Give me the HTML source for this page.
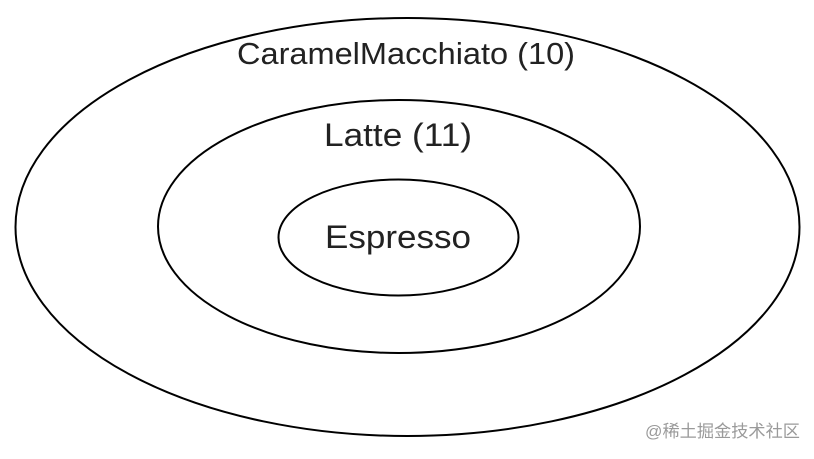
<!DOCTYPE html>
<html>
<head>
<meta charset="utf-8">
<style>
html,body{margin:0;padding:0;background:#fff;}
body{width:814px;height:454px;overflow:hidden;}
</style>
</head>
<body>
<svg width="814" height="454" viewBox="0 0 814 454" xmlns="http://www.w3.org/2000/svg">
<rect width="814" height="454" fill="#fff"/>
<ellipse cx="407.5" cy="227" rx="392" ry="209" fill="none" stroke="#000" stroke-width="2"/>
<ellipse cx="399" cy="226.5" rx="241" ry="126.5" fill="none" stroke="#000" stroke-width="2"/>
<ellipse cx="398.5" cy="237.5" rx="120" ry="58" fill="none" stroke="#000" stroke-width="2"/>
<g font-family="Liberation Sans, Arial, sans-serif" fill="#222">
<text x="237" y="64" font-size="31" textLength="338" lengthAdjust="spacingAndGlyphs">CaramelMacchiato (10)</text>
<text x="324" y="146" font-size="32" textLength="148" lengthAdjust="spacingAndGlyphs">Latte (11)</text>
<text x="325" y="248" font-size="32" textLength="146" lengthAdjust="spacingAndGlyphs">Espresso</text>
</g>
<text x="645" y="437" textLength="155" lengthAdjust="spacingAndGlyphs" font-family="Liberation Sans, 'Noto Sans CJK SC', sans-serif" font-size="17" fill="#9a9a9a">@稀土掘金技术社区</text>
</svg>
</body>
</html>
